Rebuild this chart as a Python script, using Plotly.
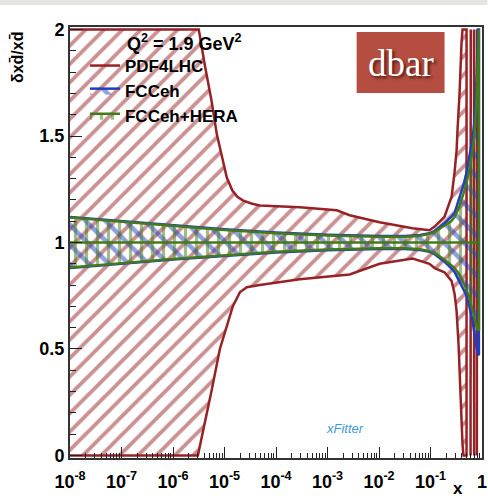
import numpy as np
import plotly.graph_objects as go

# ---------------- data ----------------
# PDF4LHC band (ratio to central), log10(x) positions
pdf_up_lx = [-8.0, -7.0, -6.0, -5.7, -5.5, -5.38, -5.25, -5.15, -5.05, -4.955, -4.85, -4.75,
             -4.645, -4.48, -4.315, -3.9, -3.54, -2.82, -2.57, -1.99, -1.35, -1.02, -0.92,
             -0.73, -0.59, -0.533, -0.494, -0.475, -0.436, -0.397, -0.378, -0.34, -0.30]
pdf_up = [4.0, 3.6, 2.7, 2.25, 2.0, 1.83, 1.663, 1.509, 1.40, 1.305, 1.245, 1.215,
          1.198, 1.183, 1.174, 1.168, 1.165, 1.151, 1.128, 1.095, 1.067, 1.058, 1.075,
          1.12, 1.215, 1.33, 1.43, 1.53, 1.70, 1.94, 2.0, 2.5, 3.0]
pdf_lo_lx = [-8.0, -7.0, -6.0, -5.7, -5.517, -5.246, -5.09, -4.955, -4.839, -4.703, -4.567,
             -4.315, -3.539, -2.57, -1.988, -1.348, -1.02, -0.92, -0.73, -0.591, -0.533,
             -0.494, -0.455, -0.417, -0.378, -0.36, -0.30]
pdf_lo = [-2.0, -1.6, -0.7, -0.25, 0.0, 0.31, 0.50, 0.607, 0.70, 0.766, 0.79,
          0.80, 0.827, 0.85, 0.90, 0.925, 0.90, 0.88, 0.86, 0.82, 0.76,
          0.68, 0.52, 0.32, 0.05, -0.3, -1.0]
# PDF4LHC edges beyond the sign change of the central value (x > 0.5)
pdf_tail_x = [0.600, 0.605, None, 0.700, 0.705, None, 0.795, 0.800]
pdf_tail_y = [-1.0, 3.0, None, 3.0, -1.0, None, -1.0, 3.0]

# FCCeh and FCCeh+HERA bands
fcc_lx = [-8, -7, -6, -5, -4, -3, -2, -1.5, -1.2, -1.0, -0.92, -0.73, -0.60, -0.53,
          -0.44, -0.36, -0.30, -0.245, -0.19, -0.15, -0.12, -0.10, -0.08, -0.06]
fcc_up = [1.12, 1.10, 1.08, 1.062, 1.047, 1.036, 1.03, 1.03, 1.035, 1.045, 1.055, 1.09,
          1.12, 1.14, 1.21, 1.27, 1.33, 1.40, 1.48, 1.56, 1.68, 1.80, 2.05, 2.3]
fcc_lo = [0.88, 0.90, 0.92, 0.938, 0.953, 0.964, 0.97, 0.97, 0.965, 0.955, 0.945, 0.91,
          0.88, 0.86, 0.82, 0.78, 0.75, 0.70, 0.64, 0.58, 0.53, 0.50, 0.48, 0.47]
hera_up = [1.117, 1.097, 1.077, 1.059, 1.044, 1.033, 1.027, 1.027, 1.032, 1.042, 1.05, 1.08,
           1.10, 1.12, 1.17, 1.23, 1.28, 1.34, 1.42, 1.50, 1.60, 1.72, 1.85, 2.05]
hera_lo = [0.883, 0.903, 0.923, 0.941, 0.956, 0.967, 0.973, 0.973, 0.968, 0.958, 0.95, 0.92,
           0.895, 0.88, 0.85, 0.81, 0.78, 0.74, 0.69, 0.65, 0.62, 0.60, 0.59, 0.585]
central = [1.0] * len(fcc_lx)

x_tickvals = [1e-8, 1e-7, 1e-6, 1e-5, 1e-4, 1e-3, 1e-2, 1e-1, 1]
x_ticktext = ["10<sup>-8</sup>", "10<sup>-7</sup>", "10<sup>-6</sup>", "10<sup>-5</sup>",
              "10<sup>-4</sup>", "10<sup>-3</sup>", "10<sup>-2</sup>", "10<sup>-1</sup>", "1"]
y_tickvals = [0, 0.5, 1, 1.5, 2]
y_ticktext = ["0", "0.5", "1", "1.5", "2"]

RED = "#962226"
BLUE = "#1F3FC0"
GREEN = "#437A1A"
FONT = "Liberation Sans"

YMIN, YMAX = 0.0, 2.0


def band(lx_up, up, lx_lo, lo):
    xs = list(10 ** np.array(lx_up, float)) + list(10 ** np.array(lx_lo, float))[::-1]
    ys = list(np.clip(up, YMIN, YMAX)) + list(np.clip(lo, YMIN, YMAX))[::-1]
    return xs, ys


fig = go.Figure()

# PDF4LHC hatched band
bx, by = band(pdf_up_lx, pdf_up, pdf_lo_lx, pdf_lo)
fig.add_trace(go.Scatter(x=bx, y=by, mode="lines", fill="toself", fillcolor="rgba(0,0,0,0)",
                         line=dict(color=RED, width=2.5),
                         fillpattern=dict(shape="/", fgcolor=RED, bgcolor="rgba(0,0,0,0)",
                                          size=13, solidity=0.3),
                         showlegend=False, hoverinfo="skip"))
ty = [None if v is None else float(np.clip(v, YMIN, YMAX)) for v in pdf_tail_y]
fig.add_trace(go.Scatter(x=pdf_tail_x, y=ty, mode="lines", line=dict(color=RED, width=2.5),
                         connectgaps=False, showlegend=False, hoverinfo="skip"))
# legend entry for PDF4LHC (line style)
fig.add_trace(go.Scatter(x=[None], y=[None], mode="lines", name="PDF4LHC",
                         line=dict(color=RED, width=2.5)))

# FCCeh band
fx, fy = band(fcc_lx, fcc_up, fcc_lx, fcc_lo)
fig.add_trace(go.Scatter(x=fx, y=fy, mode="lines", fill="toself", fillcolor="rgba(0,0,0,0)",
                         line=dict(color=BLUE, width=2.5), name="FCCeh",
                         fillpattern=dict(shape="\\", fgcolor=BLUE, bgcolor="rgba(0,0,0,0)",
                                          size=14, solidity=0.32),
                         hoverinfo="skip"))
# FCCeh+HERA band
hx, hy = band(fcc_lx, hera_up, fcc_lx, hera_lo)
fig.add_trace(go.Scatter(x=hx, y=hy, mode="lines", fill="toself", fillcolor="rgba(0,0,0,0)",
                         line=dict(color=GREEN, width=2.5), name="FCCeh+HERA",
                         fillpattern=dict(shape="|", fgcolor=GREEN, bgcolor="rgba(0,0,0,0)",
                                          size=11, solidity=0.3),
                         hoverinfo="skip"))
fig.add_trace(go.Scatter(x=list(10 ** np.array(fcc_lx, float)), y=central, mode="lines",
                         line=dict(color=GREEN, width=2.5), showlegend=False, hoverinfo="skip"))

# minor ticks for log axis
minor_x = [m * 10.0 ** e for e in range(-8, 0) for m in range(2, 10)]

W, H = 488, 499
L, R, T, B = 70, 5.5, 27, 41
pw, ph = W - L - R, H - T - B


def px2x(px):
    return (px - L) / pw


def py2y(py):
    return (H - B - py) / ph


fig.update_layout(
    width=W, height=H, margin=dict(l=L, r=R, t=T, b=B, pad=0, autoexpand=False),
    paper_bgcolor="white", plot_bgcolor="white",
    font=dict(family=FONT, size=18, color="black"),
    showlegend=True,
    legend=dict(x=px2x(85), y=py2y(48), xanchor="left", yanchor="top",
                bgcolor="rgba(0,0,0,0)", itemwidth=30,
                font=dict(family=FONT, size=17, color="black", weight="bold"),
                tracegroupgap=0),
    xaxis=dict(type="log", range=[-8, 0], tickvals=x_tickvals, ticktext=x_ticktext,
               tickangle=0, automargin=False, ticklabelstandoff=6,
               ticks="inside", ticklen=11, tickwidth=1.2, tickcolor="#222",
               minor=dict(tickvals=minor_x, ticks="inside", ticklen=5, tickwidth=1, tickcolor="#222"),
               showline=True, linecolor="#333", linewidth=2, mirror=True,
               showgrid=False, zeroline=False,
               tickfont=dict(family=FONT, size=18, color="black", weight="bold")),
    yaxis=dict(range=[YMIN - 0.012, YMAX + 0.012], tickvals=y_tickvals, ticktext=y_ticktext,
               automargin=False,
               ticks="inside", ticklen=12, tickwidth=1.2, tickcolor="#222",
               minor=dict(dtick=0.1, tick0=0, ticks="inside", ticklen=6, tickwidth=1, tickcolor="#222"),
               showline=True, linecolor="#333", linewidth=2, mirror=True,
               showgrid=False, zeroline=False,
               tickfont=dict(family=FONT, size=18, color="black", weight="bold")),
)

# light grey strip at the very top of the image
fig.add_shape(type="rect", xref="paper", yref="paper", x0=px2x(0), x1=px2x(W),
              y0=py2y(5), y1=py2y(0), fillcolor="#E6E4E0", line_width=0, layer="above")

# "dbar" label box
fig.add_shape(type="rect", xref="paper", yref="paper", x0=px2x(357), x1=px2x(445),
              y0=py2y(93), y1=py2y(32), fillcolor="#B54E40", line_width=0, layer="above")
fig.add_annotation(xref="paper", yref="paper", x=px2x(401), y=py2y(63), text="dbar",
                   showarrow=False, xanchor="center", yanchor="middle",
                   font=dict(family="Liberation Serif", size=37, color="white",
                             shadow="2px 2px 3px rgba(40,0,0,0.7)"))

fig.add_annotation(xref="paper", yref="paper", x=px2x(125), y=py2y(42),
                   text="<b>Q<sup>2</sup> = 1.9 GeV<sup>2</sup></b>", showarrow=False,
                   xanchor="left", yanchor="middle", font=dict(family=FONT, size=18))
fig.add_annotation(xref="paper", yref="paper", x=px2x(17), y=py2y(57),
                   text="<b>\u03b4xd\u0304/xd\u0304</b>", textangle=-90, showarrow=False,
                   xanchor="center", yanchor="middle", font=dict(family=FONT, size=16))
fig.add_annotation(xref="paper", yref="paper", x=px2x(458), y=py2y(488),
                   text="<b>x</b>", showarrow=False, xanchor="center", yanchor="middle",
                   font=dict(family=FONT, size=17))
fig.add_annotation(xref="paper", yref="paper", x=px2x(345), y=py2y(428),
                   text="<i>xFitter</i>", showarrow=False, xanchor="center", yanchor="middle",
                   font=dict(family=FONT, size=13, color="#3C9AD8"))

fig.write_html("out.html")
